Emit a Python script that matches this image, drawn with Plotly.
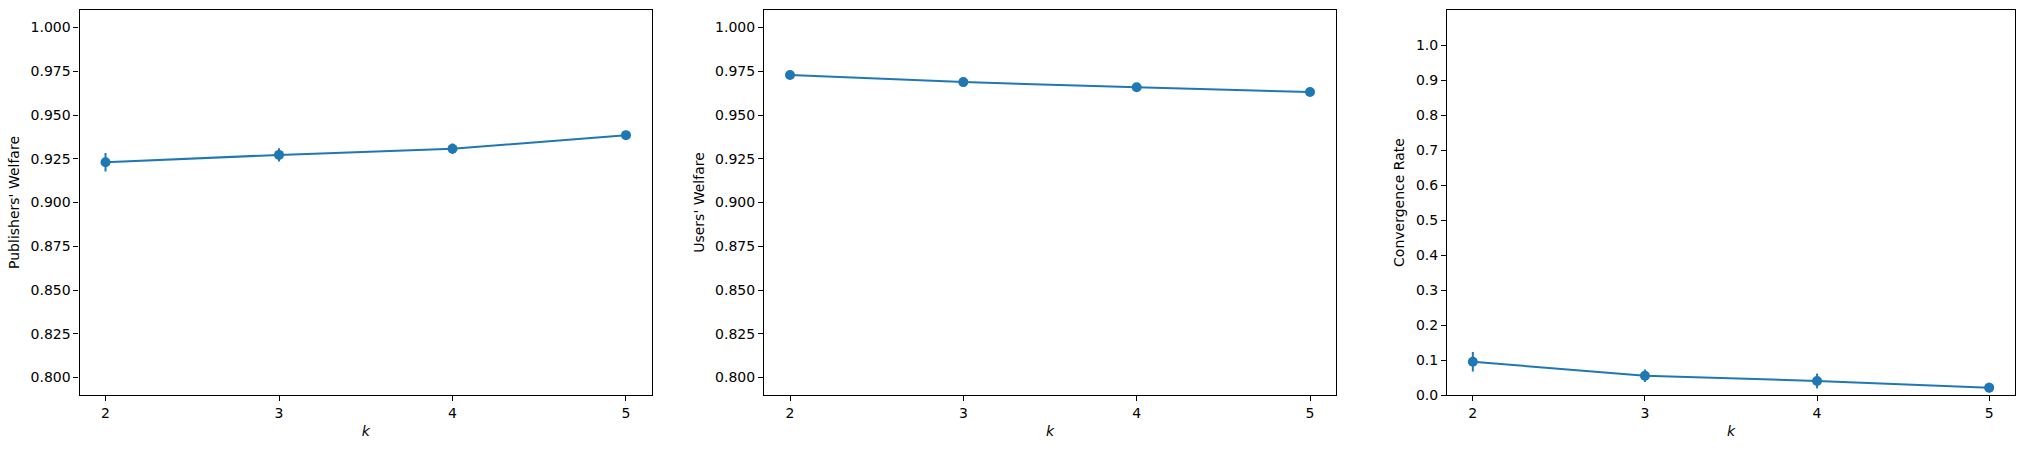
import plotly.graph_objects as go

k_values = [2, 3, 4, 5]

publishers_welfare = [0.9230, 0.9272, 0.9307, 0.9385]
publishers_err = [0.0053, 0.0038, 0.0030, 0.0015]

users_welfare = [0.9729, 0.9688, 0.9659, 0.9631]
users_err = [0.0015, 0.0012, 0.0012, 0.0012]

convergence_rate = [0.095, 0.055, 0.040, 0.021]
convergence_err = [0.028, 0.018, 0.021, 0.014]

y_titles = ["Publishers' Welfare", "Users' Welfare", "Convergence Rate"]

BLUE = "#1f77b4"
W, H = 2026, 449
FONT = "DejaVu Sans"

fig = go.Figure()

series = [(publishers_welfare, publishers_err), (users_welfare, users_err),
          (convergence_rate, convergence_err)]
for i, (vals, errs) in enumerate(series):
    suffix = "" if i == 0 else str(i + 1)
    fig.add_trace(go.Scatter(
        x=k_values, y=vals,
        mode="lines+markers",
        line=dict(color=BLUE, width=2),
        marker=dict(color=BLUE, size=10, symbol="circle"),
        error_y=dict(type="data", array=errs, visible=True, color=BLUE,
                     thickness=2, width=0),
        xaxis="x" + suffix, yaxis="y" + suffix,
        showlegend=False,
    ))

x_domains = [(79.5 / W, 652 / W), (764 / W, 1336 / W), (1447 / W, 2015 / W)]
y_ranges = [[0.79, 1.01], [0.79, 1.01], [0.0, 1.1]]
y_tickvals = [
    [0.800, 0.825, 0.850, 0.875, 0.900, 0.925, 0.950, 0.975, 1.000],
    [0.800, 0.825, 0.850, 0.875, 0.900, 0.925, 0.950, 0.975, 1.000],
    [0.0, 0.1, 0.2, 0.3, 0.4, 0.5, 0.6, 0.7, 0.8, 0.9, 1.0],
]
y_formats = [".3f", ".3f", ".1f"]

axis_common = dict(
    showline=True, mirror=True, linecolor="black", linewidth=1.1,
    ticks="outside", ticklen=5, tickwidth=1.1, tickcolor="black",
    showgrid=False, zeroline=False,
    tickfont=dict(family=FONT, size=14, color="black"),
)

layout = dict(
    width=W, height=H,
    margin=dict(l=0, r=0, t=10, b=54),
    paper_bgcolor="white", plot_bgcolor="white",
    font=dict(family=FONT, size=14, color="black"),
)
for i in range(3):
    suffix = "" if i == 0 else str(i + 1)
    layout["xaxis" + suffix] = dict(
        axis_common,
        domain=list(x_domains[i]),
        range=[1.85, 5.15],
        tickvals=k_values,
        ticktext=[str(v) for v in k_values],
        anchor="y" + suffix,
        title=dict(text="<i>k</i>", standoff=6,
                   font=dict(family=FONT, size=14, color="black")),
    )
    layout["yaxis" + suffix] = dict(
        axis_common,
        domain=[0, 1],
        range=y_ranges[i],
        tickvals=y_tickvals[i],
        tickformat=y_formats[i],
        anchor="x" + suffix,
        title=dict(text=y_titles[i], standoff=7,
                   font=dict(family=FONT, size=14, color="black")),
    )

fig.update_layout(**layout)
fig.write_html(
    "out.html",
    config={"displayModeBar": False},
    post_script="document.body.style.margin='0';document.body.style.overflow='hidden';",
)
